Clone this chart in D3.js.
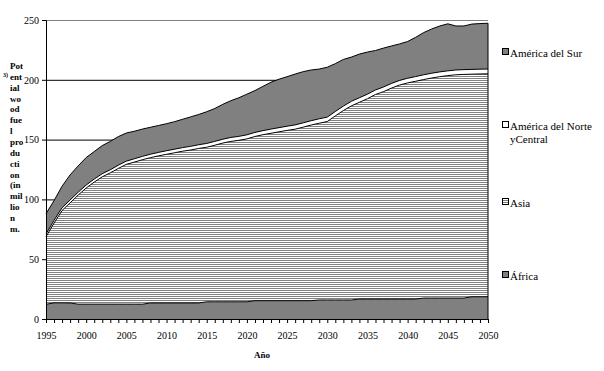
<!DOCTYPE html>
<html><head><meta charset="utf-8">
<script src="https://cdn.jsdelivr.net/npm/d3@7"></script>
<style>body{margin:0;background:#fff}svg{display:block;font-family:"Liberation Serif","Times New Roman",serif}</style>
</head><body><svg id="c" width="604" height="371"></svg>
<script>
const years = d3.range(1995, 2051);
const africa = [12.3,13.5,13.5,13.4,12.4,12.4,12.4,12.4,12.4,12.4,12.4,12.4,12.4,13.4,13.4,13.4,13.4,13.4,13.4,13.4,14.4,14.4,14.4,14.4,14.4,14.4,15.3,15.3,15.3,15.3,15.3,15.3,15.3,15.3,15.9,15.9,15.9,15.9,15.9,16.7,16.7,16.7,16.7,16.7,16.7,16.7,16.7,17.5,17.5,17.5,17.5,17.5,17.5,18.6,18.6,18.6];
const asia = [56.5,66.7,77.2,83.7,91.2,97.1,102.1,106.5,109.8,113.5,116.9,118.8,120.8,121.5,123.0,124.3,125.6,126.9,127.9,129.2,129.2,130.9,132.7,134.1,135.0,136.2,137.3,138.8,140.0,141.2,142.4,143.4,145.1,146.9,147.8,149.2,153.9,158.4,162.3,164.5,167.5,171.0,173.4,176.4,178.9,180.7,182.1,182.7,184.0,185.1,186.0,186.7,187.0,186.1,186.3,186.4];
const northCentralAmerica = [2.2,2.3,2.3,2.4,2.4,2.5,2.5,2.6,2.6,2.7,2.7,2.8,2.8,2.9,2.9,3.0,3.0,3.0,3.1,3.1,3.2,3.2,3.2,3.3,3.3,3.4,3.4,3.4,3.5,3.5,3.5,3.6,3.6,3.6,3.7,3.7,3.7,3.7,3.8,3.8,3.8,3.8,3.9,3.9,3.9,3.9,3.9,4.0,4.0,4.0,4.0,4.0,4.0,4.0,4.0,4.0];
const southAmerica = [17,16.5,18,21,22,23,23,23.5,23.7,23.9,23.5,23,22.8,22.5,22.5,22.6,23,23.7,24.6,25.3,26.5,27.5,29.2,30.7,32.3,34,35,37,39.2,40.5,41.4,42.5,42.8,42.4,41.6,41.7,40,39,37,36.5,35.2,33,32.5,31.3,30.5,30.7,32.8,35.3,37,38.4,39.3,36.8,36.5,37.9,38.1,38.3];
const seriesNames = ["África","Asia","América del Norte y Central","América del Sur"];
const yTicks = [0,50,100,150,200,250];
const xTicks = [1995,2000,2005,2010,2015,2020,2025,2030,2035,2040,2045,2050];
const yTitleLines = ["Pot","ent","ial","wo","od","fue","l","pro","du","cti","on","(in","mil","lio","n","m."];

const svg = d3.select("#c");
const x = d3.scaleLinear().domain([1995,2050]).range([46,488]);
const y = d3.scaleLinear().domain([0,250]).range([319,20]);

const defs = svg.append("defs");
const pat = defs.append("pattern").attr("id","stripes").attr("patternUnits","userSpaceOnUse").attr("width",4).attr("height",2);
pat.append("rect").attr("width",4).attr("height",2).attr("fill","#fff");
pat.append("rect").attr("width",4).attr("height",1).attr("fill","#808080");

// gridlines
svg.append("g").selectAll("line").data(yTicks.filter(v=>v>0)).join("line")
  .attr("x1",x(1995)).attr("x2",x(2050)).attr("y1",d=>y(d)+0.5).attr("y2",d=>y(d)+0.5)
  .attr("stroke",d=>d===250?"#808080":"#000").attr("stroke-width",1);

const table = years.map((yr,i)=>({year:yr, af:africa[i], as:asia[i], na:northCentralAmerica[i], sa:southAmerica[i]}));
const stack = d3.stack().keys(["af","as","na","sa"])(table);
const fills = ["#808080","url(#stripes)","#fff","#808080"];
const area = d3.area().x(d=>x(d.data.year)).y0(d=>y(d[0])).y1(d=>y(d[1]));
const topLine = d3.line().x(d=>x(d.data.year)).y(d=>y(d[1]));

svg.append("g").selectAll("path").data(stack).join("path")
  .attr("d",area).attr("fill",(d,i)=>fills[i]);
svg.append("g").selectAll("path").data(stack).join("path")
  .attr("d",topLine).attr("fill","none").attr("stroke","#000").attr("stroke-width",1);
// right edge
const last = stack[3][stack[3].length-1];
svg.append("line").attr("x1",x(2050)).attr("x2",x(2050)).attr("y1",y(last[1])).attr("y2",y(0)).attr("stroke","#000");

// axes
const yAxis = d3.axisLeft(y).tickValues(yTicks).tickSize(4).tickPadding(3);
const gy = svg.append("g").attr("transform",`translate(${x(1995)},0)`).call(yAxis);
const xAxis = d3.axisBottom(x).tickValues(years).tickSize(4).tickFormat(d=>xTicks.includes(d)?d:"").tickPadding(9);
const gx = svg.append("g").attr("transform",`translate(0,${y(0)})`).call(xAxis);
[gx,gy].forEach(g=>{
  g.select(".domain").attr("stroke","#000");
  g.selectAll(".tick line").attr("stroke","#000");
  g.selectAll("text").attr("font-family","Liberation Serif").attr("font-size",10).attr("fill","#000");
});

// axis titles
svg.append("text").attr("x",262).attr("y",358).attr("text-anchor","middle")
  .attr("font-size",9).attr("font-weight","bold").text("Año");
const yt = svg.append("text").attr("font-size",9).attr("font-weight","bold");
yTitleLines.forEach((t,i)=>yt.append("tspan").attr("x",10).attr("y",69+i*10.85).text(t));
svg.append("text").attr("x",3).attr("y",77).attr("font-size",6).attr("font-weight","bold").text("3)");

// legend
const legend = [
  {name:"América del Sur", fill:"#808080", lines:["América del Sur"], y:55},
  {name:"América del Norte y Central", fill:"#fff", lines:["América del Norte","yCentral"], y:128},
  {name:"Asia", fill:"url(#stripes)", lines:["Asia"], y:205},
  {name:"África", fill:"#808080", lines:["África"], y:278}
];
const lg = svg.append("g").selectAll("g").data(legend).join("g");
lg.append("rect").attr("x",502.5).attr("y",d=>d.y-6.5).attr("width",6).attr("height",6)
  .attr("fill",d=>d.fill).attr("stroke","#000");
lg.each(function(d){
  const t = d3.select(this).append("text").attr("font-size",11);
  d.lines.forEach((l,i)=>t.append("tspan").attr("x",510).attr("y",d.y+2+i*13).text(l));
});
</script></body></html>
